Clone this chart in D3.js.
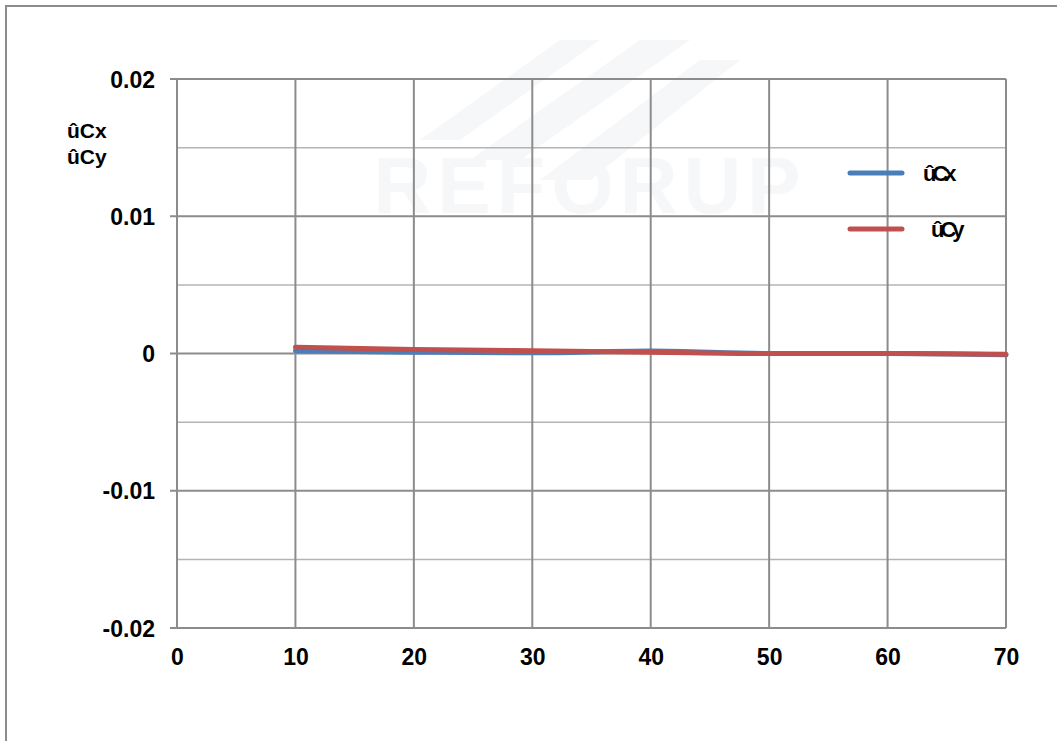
<!DOCTYPE html>
<html>
<head>
<meta charset="utf-8">
<script src="https://cdn.jsdelivr.net/npm/d3@7"></script>
<style>
  body { margin: 0; background: #fff; }
  text { font-family: "Liberation Sans", Arial, sans-serif; font-weight: bold; fill: #000; }
</style>
</head>
<body>
<div id="chart"></div>
<script>
// data
const xValues = [10, 20, 30, 40, 50, 60, 70]
const cxValues = [0.0002, 0.0001, 0.00005, 0.00018, 0.0, 0.0, -0.0001]
const cyValues = [0.00045, 0.0003, 0.0002, 0.0001, 0.0, 0.0, -0.00005]
const xTicks = [0, 10, 20, 30, 40, 50, 60, 70]
const yTicks = [-0.02, -0.01, 0, 0.01, 0.02]
const yMinor = [-0.015, -0.005, 0.005, 0.015]
const seriesNames = ['ûCx', 'ûCy']
const seriesColors = ['#4a7ebb', '#c0504d']

const svgWidth = 1057
const svgHeight = 741
const margin = { left: 177, top: 79, right: 51, bottom: 113 }
const width = svgWidth - margin.left - margin.right
const height = svgHeight - margin.top - margin.bottom

const root = d3.select('#chart').append('svg')
    .attr('width', svgWidth)
    .attr('height', svgHeight)

// outer frame (runs off the right and bottom)
root.append('rect')
    .attr('x', 6).attr('y', 6)
    .attr('width', 1100).attr('height', 800)
    .attr('fill', 'none')
    .attr('stroke', '#8c8c8c')
    .attr('stroke-width', 2)

// faint watermark
const wm = root.append('g').attr('opacity', 0.08)
wm.append('path')
    .attr('d', 'M420,140 L560,40 L600,40 L460,140 Z M470,160 L640,40 L690,40 L520,160 Z M540,180 L700,60 L740,60 L590,180 Z')
    .attr('fill', '#9aa0c0')
wm.append('text')
    .attr('x', 590).attr('y', 213)
    .attr('text-anchor', 'middle')
    .style('font-size', '80px')
    .style('fill', '#9aa0c0')
    .style('letter-spacing', '6px')
    .text('REFORUP')

const svg = root.append('g')
    .attr('transform', 'translate(' + margin.left + ',' + margin.top + ')')

const xScale = d3.scaleLinear().domain([0, 70]).range([0, width])
const yScale = d3.scaleLinear().domain([-0.02, 0.02]).range([height, 0])

// grid
svg.selectAll('.minor').data(yMinor).join('line')
    .attr('x1', 0).attr('x2', width)
    .attr('y1', d => yScale(d)).attr('y2', d => yScale(d))
    .attr('stroke', '#b4b4b4').attr('stroke-width', 1.5)
svg.selectAll('.hgrid').data(yTicks).join('line')
    .attr('x1', -7).attr('x2', width)
    .attr('y1', d => yScale(d)).attr('y2', d => yScale(d))
    .attr('stroke', '#8c8c8c').attr('stroke-width', 2)
svg.selectAll('.vgrid').data(xTicks).join('line')
    .attr('x1', d => xScale(d)).attr('x2', d => xScale(d))
    .attr('y1', 0).attr('y2', height)
    .attr('stroke', '#8c8c8c').attr('stroke-width', 2)

// axes labels
const yAxis = d3.axisLeft(yScale).tickValues(yTicks).tickSize(0).tickPadding(22)
    .tickFormat(d => d === 0 ? '0' : d3.format('.2f')(d).replace('\u2212', '-'))
const yg = svg.append('g').call(yAxis)
yg.select('.domain').remove()
yg.selectAll('text').style('font-size', '23px').attr('dy', '0.35em')

const xAxis = d3.axisBottom(xScale).tickValues(xTicks).tickSize(0).tickPadding(21)
const xg = svg.append('g').attr('transform', 'translate(0,' + height + ')').call(xAxis)
xg.select('.domain').remove()
xg.selectAll('text').style('font-size', '23px').attr('dy', '0.71em')

// y axis title, two lines
root.append('text').attr('x', 67).attr('y', 138).style('font-size', '21px').text('ûCx')
root.append('text').attr('x', 67).attr('y', 164).style('font-size', '21px').text('ûCy')

// lines
const line = d3.line()
    .x((d, i) => xScale(xValues[i]))
    .y(d => yScale(d))
    .curve(d3.curveMonotoneX)

;[cxValues, cyValues].forEach((vals, k) => {
    svg.append('path')
        .datum(vals)
        .attr('d', line)
        .attr('fill', 'none')
        .attr('stroke', seriesColors[k])
        .attr('stroke-width', 5)
        .attr('stroke-linecap', 'round')
})

// legend
const legendY = [173, 229]
const legendTextX = [923, 931]
seriesNames.forEach((name, k) => {
    root.append('line')
        .attr('x1', 850).attr('x2', 902)
        .attr('y1', legendY[k]).attr('y2', legendY[k])
        .attr('stroke', seriesColors[k])
        .attr('stroke-width', 5)
        .attr('stroke-linecap', 'round')
    root.append('text')
        .attr('x', legendTextX[k]).attr('y', legendY[k] + 8)
        .style('font-size', '22px')
        .style('letter-spacing', '-4px')
        .text(name)
})
</script>
</body>
</html>
